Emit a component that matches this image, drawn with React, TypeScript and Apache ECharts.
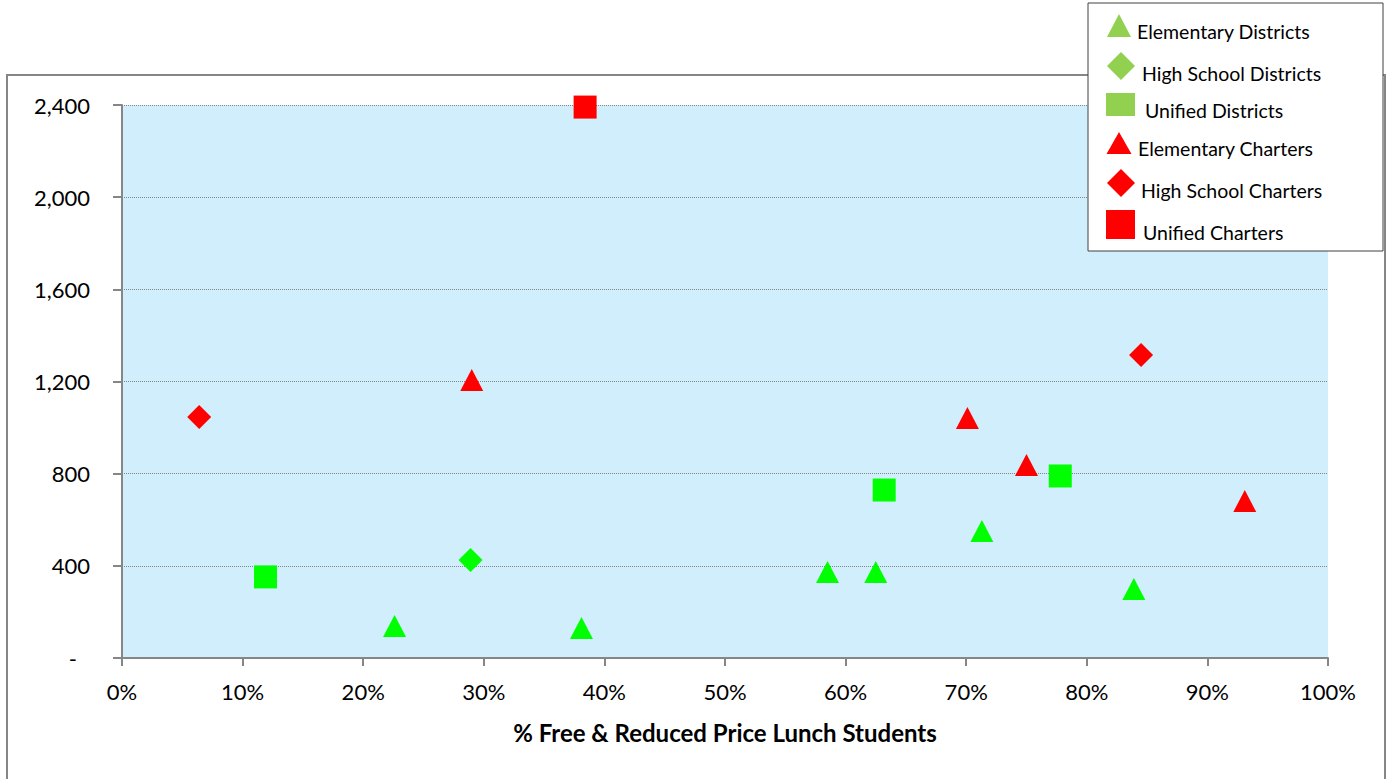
import React, { useEffect, useRef } from "react";
import * as echarts from "echarts";

// ---- Data (x = % free & reduced price lunch students, y = value) ----
const elementaryDistricts: [number, number][] = [
  [22.6, 139],
  [38.1, 130],
  [58.5, 373],
  [62.5, 373],
  [71.3, 551],
  [83.9, 299],
];
const highSchoolDistricts: [number, number][] = [[28.9, 425]];
const unifiedDistricts: [number, number][] = [
  [11.9, 352],
  [63.2, 729],
  [77.8, 790],
];
const elementaryCharters: [number, number][] = [
  [29.0, 1207],
  [70.1, 1042],
  [75.0, 838],
  [93.1, 681],
];
const highSchoolCharters: [number, number][] = [
  [6.4, 1046],
  [84.5, 1315],
];
const unifiedCharters: [number, number][] = [[38.4, 2391]];

const legendNames = [
  "Elementary Districts",
  "High School Districts",
  "Unified Districts",
  "Elementary Charters",
  "High School Charters",
  "Unified Charters",
];

const xAxisTitle = "% Free & Reduced Price Lunch Students";

const FONT = "Lato, 'Open Sans', sans-serif";
const GREEN = "#00FF00";
const RED = "#FF0000";
const LEGEND_GREEN = "#92D050";
const AXIS_GRAY = "#868686";

export default function App() {
  const ref = useRef<HTMLDivElement>(null);

  useEffect(() => {
    if (!ref.current) return;
    const chart = echarts.init(ref.current, undefined, { renderer: "svg" });

    const tri = [23, 22];
    const sq = 23;
    const dia = 24;

    const mk = (
      name: string,
      data: [number, number][],
      symbol: string,
      size: number | number[],
      color: string
    ) => ({
      name,
      type: "scatter",
      data,
      symbol,
      symbolSize: size,
      itemStyle: { color, opacity: 1 },
      z: 3,
    });

    // custom legend geometry
    const legendText = (text: string, x: number, y: number) => ({
      type: "text",
      z: 101,
      style: {
        text,
        x,
        y,
        fill: "#000",
        fontSize: 19.5,
        fontFamily: FONT,
        verticalAlign: "middle",
        align: "left",
      },
    });
    const triangle = (cx: number, top: number, bottom: number, w: number, color: string) => ({
      type: "polygon",
      z: 101,
      shape: {
        points: [
          [cx, top],
          [cx + w / 2, bottom],
          [cx - w / 2, bottom],
        ],
      },
      style: { fill: color },
    });
    const diamond = (cx: number, cy: number, r: number, color: string) => ({
      type: "polygon",
      z: 101,
      shape: {
        points: [
          [cx, cy - r],
          [cx + r, cy],
          [cx, cy + r],
          [cx - r, cy],
        ],
      },
      style: { fill: color },
    });
    const square = (x: number, y: number, w: number, h: number, color: string) => ({
      type: "rect",
      z: 101,
      shape: { x, y, width: w, height: h },
      style: { fill: color },
    });

    const option: any = {
      animation: false,
      backgroundColor: "#ffffff",
      grid: {
        left: 122,
        right: 61,
        top: 105,
        bottom: 121,
        show: true,
        backgroundColor: "#D1EEFD",
        borderWidth: 0,
        containLabel: false,
        outerBoundsMode: "none",
      },
      xAxis: {
        type: "value",
        min: 0,
        max: 100,
        interval: 10,
        name: xAxisTitle,
        nameLocation: "middle",
        nameGap: 62,
        nameTextStyle: {
          fontFamily: FONT,
          fontSize: 24,
          fontWeight: "bold",
          color: "#000",
          verticalAlign: "top",
        },
        axisLine: { show: true, onZero: false, lineStyle: { color: AXIS_GRAY, width: 2 } },
        axisTick: { show: true, inside: false, length: 8, lineStyle: { color: AXIS_GRAY, width: 2 } },
        axisLabel: {
          formatter: "{value}%",
          margin: 22,
          fontFamily: FONT,
          fontSize: 22,
          color: "#000",
        },
        splitLine: { show: false },
      },
      yAxis: {
        type: "value",
        min: 0,
        max: 2400,
        interval: 400,
        axisLine: { show: true, onZero: false, lineStyle: { color: AXIS_GRAY, width: 2 } },
        axisTick: { show: true, inside: false, length: 9, lineStyle: { color: AXIS_GRAY, width: 2 } },
        axisLabel: {
          margin: 32,
          fontFamily: FONT,
          fontSize: 22,
          color: "#000",
          formatter: (v: number) => (v === 0 ? "{d|-}" : v.toLocaleString("en-US")),
          rich: {
            d: { padding: [0, 13, 0, 0], fontFamily: FONT, fontSize: 22, color: "#000" },
          },
        },
        splitLine: {
          show: true,
          lineStyle: { color: AXIS_GRAY, width: 1, type: "dotted" },
        },
      },
      series: [
        mk(legendNames[0], elementaryDistricts, "triangle", tri, GREEN),
        mk(legendNames[1], highSchoolDistricts, "diamond", dia, GREEN),
        mk(legendNames[2], unifiedDistricts, "rect", sq, GREEN),
        mk(legendNames[3], elementaryCharters, "triangle", tri, RED),
        mk(legendNames[4], highSchoolCharters, "diamond", dia, RED),
        mk(legendNames[5], unifiedCharters, "rect", sq, RED),
      ],
      graphic: [
        {
          type: "rect",
          z: 0,
          silent: true,
          shape: { x: 7, y: 75, width: 1378, height: 740 },
          style: { fill: "none", stroke: AXIS_GRAY, lineWidth: 2 },
        },
        {
          type: "rect",
          z: 100,
          shape: { x: 1088, y: 3, width: 295, height: 248 },
          style: { fill: "#ffffff", stroke: "#404040", lineWidth: 1 },
        },
        triangle(1119, 14, 37, 24, LEGEND_GREEN),
        legendText(legendNames[0], 1137, 31),
        diamond(1121, 66, 14, LEGEND_GREEN),
        legendText(legendNames[1], 1142, 73),
        square(1106, 93, 29, 23, LEGEND_GREEN),
        legendText(legendNames[2], 1145, 110),
        triangle(1119, 132, 154, 25, RED),
        legendText(legendNames[3], 1138, 148),
        diamond(1121, 183, 14, RED),
        legendText(legendNames[4], 1141, 190),
        square(1106, 210, 29, 29, RED),
        legendText(legendNames[5], 1143, 232),
      ],
    };

    chart.setOption(option);
    return () => {
      chart.dispose();
    };
  }, []);

  return (
    <div
      ref={ref}
      style={{ position: "fixed", left: 0, top: 0, width: 1389, height: 779 }}
    />
  );
}
